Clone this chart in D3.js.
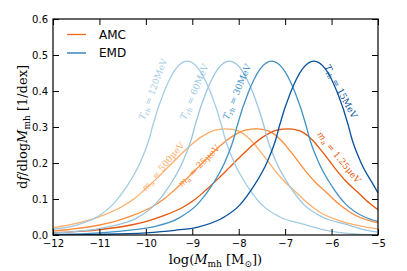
<!DOCTYPE html>
<html>
  <head>
    <meta charset="utf-8">
    <title>Microhalo mass function</title>
    <script src="https://d3js.org/d3.v7.min.js"></script>
    <style>
      body { margin: 0; background: #fff; }
      .tick text { font-family: "DejaVu Sans", sans-serif; font-size: 10px; fill: #000; }
      .tick line { stroke: #000; stroke-width: 1; }
    </style>
  </head>
  <body>
    <svg id="grafico"></svg>
    <script>
      // ticks of the axes
      var xTicks = [-12, -11, -10, -9, -8, -7, -6, -5];
      var yTicks = [0.0, 0.1, 0.2, 0.3, 0.4, 0.5, 0.6];

      // AMC curves [log M, df/dlogM]
      var amc500 = [[-12, 0.020], [-11.5, 0.032], [-11, 0.051], [-10.5, 0.080], [-10.26, 0.100], [-10.01, 0.128],
        [-9.76, 0.158], [-9.51, 0.190], [-9.26, 0.222], [-9.01, 0.252], [-8.76, 0.276], [-8.51, 0.291],
        [-8.26, 0.295], [-8.01, 0.289], [-7.76, 0.266], [-7.51, 0.228], [-7.26, 0.186], [-7.01, 0.148],
        [-6.76, 0.118], [-6.51, 0.088], [-6.26, 0.064], [-5.76, 0.037], [-5.26, 0.022], [-5, 0.017]];
      var amc25 = [[-12, 0.011], [-11.61, 0.016], [-11.11, 0.025], [-10.61, 0.040], [-10.31, 0.053], [-9.91, 0.075],
        [-9.61, 0.100], [-9.36, 0.128], [-9.11, 0.158], [-8.86, 0.190], [-8.61, 0.222], [-8.36, 0.252],
        [-8.11, 0.276], [-7.86, 0.291], [-7.61, 0.295], [-7.36, 0.289], [-7.11, 0.266], [-6.86, 0.228],
        [-6.61, 0.186], [-6.36, 0.148], [-6.11, 0.118], [-5.86, 0.088], [-5.61, 0.064], [-5.11, 0.037], [-5, 0.034]];
      var amc125 = [[-12, 0.006], [-11.43, 0.010], [-10.93, 0.016], [-10.43, 0.025], [-9.93, 0.040], [-9.63, 0.053],
        [-9.23, 0.075], [-8.93, 0.100], [-8.68, 0.128], [-8.43, 0.158], [-8.18, 0.190], [-7.93, 0.222],
        [-7.68, 0.252], [-7.43, 0.276], [-7.18, 0.291], [-6.93, 0.295], [-6.68, 0.289], [-6.43, 0.266],
        [-6.18, 0.228], [-5.93, 0.186], [-5.68, 0.148], [-5.43, 0.118], [-5.18, 0.088], [-5, 0.070]];

      // EMD curves
      var emd120 = [[-12, 0.016], [-11.5, 0.027], [-11, 0.054], [-10.71, 0.085], [-10.41, 0.135], [-10.11, 0.205],
        [-9.91, 0.275], [-9.86, 0.300], [-9.61, 0.397], [-9.36, 0.461], [-9.11, 0.483], [-8.86, 0.461],
        [-8.61, 0.397], [-8.36, 0.300], [-8.31, 0.275], [-8.11, 0.205], [-7.81, 0.135], [-7.51, 0.085],
        [-7.11, 0.050], [-6.61, 0.030], [-6.11, 0.013], [-5.61, 0.004], [-5, 0.001]];
      var emd60 = [[-12, 0.005], [-11.5, 0.010], [-11, 0.018], [-10.5, 0.032], [-10.2, 0.047], [-9.8, 0.085],
        [-9.5, 0.135], [-9.2, 0.205], [-9.0, 0.275], [-8.95, 0.300], [-8.7, 0.397], [-8.45, 0.461], [-8.2, 0.483],
        [-7.95, 0.461], [-7.7, 0.397], [-7.45, 0.300], [-7.4, 0.275], [-7.2, 0.205], [-6.9, 0.135], [-6.6, 0.085],
        [-6.2, 0.050], [-5.7, 0.030], [-5.2, 0.012], [-5, 0.008]];
      var emd30 = [[-12, 0.0015], [-11, 0.006], [-10.29, 0.014], [-9.79, 0.024], [-9.29, 0.047], [-8.89, 0.085],
        [-8.59, 0.135], [-8.29, 0.205], [-8.09, 0.275], [-8.04, 0.300], [-7.79, 0.397], [-7.54, 0.461], [-7.29, 0.483],
        [-7.04, 0.461], [-6.79, 0.397], [-6.54, 0.300], [-6.49, 0.275], [-6.29, 0.205], [-5.99, 0.135], [-5.69, 0.085],
        [-5.29, 0.050], [-5, 0.038]];
      var emd15 = [[-12, 0.0005], [-11, 0.0018], [-10, 0.006], [-9.38, 0.013], [-8.88, 0.022], [-8.38, 0.045],
        [-7.98, 0.083], [-7.68, 0.135], [-7.38, 0.205], [-7.18, 0.275], [-7.13, 0.300], [-6.88, 0.397], [-6.63, 0.461],
        [-6.38, 0.483], [-6.13, 0.461], [-5.88, 0.397], [-5.63, 0.300], [-5.58, 0.275], [-5.38, 0.205], [-5.08, 0.135],
        [-5, 0.117]];

      var series = [
        {datos: amc500, color: "#fdae6b"},
        {datos: amc25, color: "#fd8d3c"},
        {datos: amc125, color: "#e6550d"},
        {datos: emd120, color: "#a3cce3"},
        {datos: emd60, color: "#9ac6df"},
        {datos: emd30, color: "#4292c6"},
        {datos: emd15, color: "#08519c"}
      ];

      var leyenda = [{nombre: "AMC", color: "#f16913"}, {nombre: "EMD", color: "#2171b5"}];

      // dimensiones
      var margen = {arriba: 19, derecha: 29, abajo: 36, izquierda: 53};
      var W = 407, H = 271;
      var ancho = W - margen.izquierda - margen.derecha;
      var alto = H - margen.arriba - margen.abajo;

      var escalaX = d3.scaleLinear().domain([-12, -5]).range([0, ancho]);
      var escalaY = d3.scaleLinear().domain([0, 0.6]).range([alto, 0]);

      var svg = d3.select("#grafico").attr("width", W).attr("height", H);
      var g = svg.append("g").attr("transform", "translate(" + margen.izquierda + "," + margen.arriba + ")");

      g.append("clipPath").attr("id", "clip")
        .append("rect").attr("width", ancho).attr("height", alto);

      var linea = d3.line()
        .x(function(d) { return escalaX(d[0]); })
        .y(function(d) { return escalaY(d[1]); })
        .curve(d3.curveMonotoneX);

      g.append("g").attr("clip-path", "url(#clip)")
        .selectAll("path").data(series).enter().append("path")
        .attr("d", function(s) { return linea(s.datos); })
        .attr("fill", "none")
        .attr("stroke", function(s) { return s.color; })
        .attr("stroke-width", 1.3);

      // ejes (ticks hacia adentro en los cuatro lados)
      var fmtY = d3.format(".1f");
      var fmtX = d3.format("d");
      g.append("g").attr("transform", "translate(0," + alto + ")")
        .call(d3.axisBottom(escalaX).tickValues(xTicks).tickSize(-6).tickSizeOuter(0).tickPadding(5).tickFormat(fmtX))
        .call(function(a) { a.select(".domain").remove(); });
      g.append("g")
        .call(d3.axisTop(escalaX).tickValues(xTicks).tickSize(-6).tickSizeOuter(0).tickFormat(""))
        .call(function(a) { a.select(".domain").remove(); });
      g.append("g")
        .call(d3.axisLeft(escalaY).tickValues(yTicks).tickSize(-6).tickSizeOuter(0).tickPadding(5).tickFormat(fmtY))
        .call(function(a) { a.select(".domain").remove(); });
      g.append("g").attr("transform", "translate(" + ancho + ",0)")
        .call(d3.axisRight(escalaY).tickValues(yTicks).tickSize(-6).tickSizeOuter(0).tickFormat(""))
        .call(function(a) { a.select(".domain").remove(); });

      g.append("rect").attr("width", ancho).attr("height", alto)
        .attr("fill", "none").attr("stroke", "#000").attr("stroke-width", 1.2);

      // leyenda
      leyenda.forEach(function(l, i) {
        var yy = 15.5 + i * 18.5;
        g.append("line").attr("x1", 14).attr("x2", 33).attr("y1", yy).attr("y2", yy)
          .attr("stroke", l.color).attr("stroke-width", 1.3);
        g.append("text").attr("x", 46).attr("y", yy + 4.3)
          .style("font-family", "DejaVu Sans, sans-serif").style("font-size", "12px")
          .text(l.nombre);
      });

      // etiquetas de las curvas
      var etiquetas = [
        {sym: "T", sub: "rh", resto: " = 120MeV", x: -9.85, y: 0.405, rot: -69, color: "#a3cce3"},
        {sym: "T", sub: "rh", resto: " = 60MeV", x: -8.96, y: 0.398, rot: -67, color: "#9ac6df"},
        {sym: "T", sub: "rh", resto: " = 30MeV", x: -8.04, y: 0.398, rot: -67, color: "#4292c6"},
        {sym: "T", sub: "rh", resto: " = 15MeV", x: -5.80, y: 0.399, rot: 62, color: "#08519c"},
        {sym: "m", sub: "a", resto: " = 500\u03bceV", x: -9.63, y: 0.190, rot: -50, color: "#fdae6b"},
        {sym: "m", sub: "a", resto: " = 25\u03bceV", x: -8.86, y: 0.192, rot: -45, color: "#fd8d3c"},
        {sym: "m", sub: "a", resto: " = 1.25\u03bceV", x: -5.84, y: 0.216, rot: 51, color: "#e6550d"}
      ];
      etiquetas.forEach(function(e) {
        var t = g.append("text")
          .attr("transform", "translate(" + escalaX(e.x) + "," + escalaY(e.y) + ") rotate(" + e.rot + ")")
          .attr("text-anchor", "middle").attr("dy", "0.35em")
          .style("font-family", "DejaVu Serif, serif").style("font-size", "9px")
          .attr("fill", e.color);
        t.append("tspan").style("font-style", "italic").text(e.sym);
        t.append("tspan").attr("dy", 2).style("font-size", "6.5px").text(e.sub);
        t.append("tspan").attr("dy", -2).text(e.resto);
      });

      // títulos de los ejes
      var xl = svg.append("text")
        .attr("x", margen.izquierda + ancho / 2).attr("y", 264)
        .attr("text-anchor", "middle")
        .style("font-family", "DejaVu Serif, serif").style("font-size", "13px");
      xl.append("tspan").text("log(");
      xl.append("tspan").style("font-style", "italic").text("M");
      xl.append("tspan").attr("dy", 3).style("font-size", "9px").text("mh");
      xl.append("tspan").attr("dy", -3).text(" [M");
      xl.append("tspan").attr("dy", 3).style("font-size", "9px").text("\u2299");
      xl.append("tspan").attr("dy", -3).text("])");

      var yl = svg.append("text")
        .attr("transform", "translate(27," + (margen.arriba + alto / 2) + ") rotate(-90)")
        .attr("text-anchor", "middle")
        .style("font-family", "DejaVu Serif, serif").style("font-size", "13px");
      yl.append("tspan").text("d");
      yl.append("tspan").style("font-style", "italic").text("f");
      yl.append("tspan").text("/dlog");
      yl.append("tspan").style("font-style", "italic").text("M");
      yl.append("tspan").attr("dy", 3).style("font-size", "9px").text("mh");
      yl.append("tspan").attr("dy", -3).text(" [1/dex]");
    </script>
  </body>
</html>
